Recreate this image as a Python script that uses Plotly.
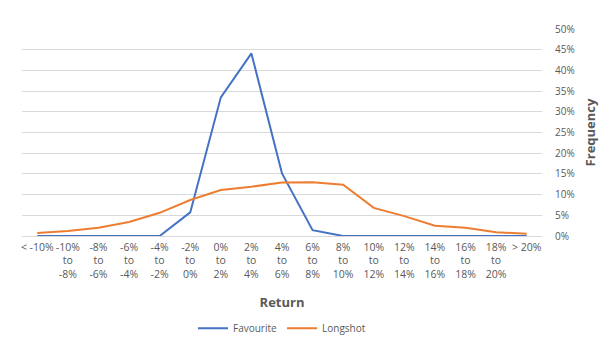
import plotly.graph_objects as go

# Return buckets (category axis) and their display labels
buckets = ["< -10%", "-10% to -8%", "-8% to -6%", "-6% to -4%", "-4% to -2%",
           "-2% to 0%", "0% to 2%", "2% to 4%", "4% to 6%", "6% to 8%",
           "8% to 10%", "10% to 12%", "12% to 14%", "14% to 16%", "16% to 18%",
           "18% to 20%", "> 20%"]
bucket_labels = ["&lt; -10%", "-10%<br>to<br>-8%", "-8%<br>to<br>-6%", "-6%<br>to<br>-4%",
                 "-4%<br>to<br>-2%", "-2%<br>to<br>0%", "0%<br>to<br>2%", "2%<br>to<br>4%",
                 "4%<br>to<br>6%", "6%<br>to<br>8%", "8%<br>to<br>10%", "10%<br>to<br>12%",
                 "12%<br>to<br>14%", "14%<br>to<br>16%", "16%<br>to<br>18%", "18%<br>to<br>20%",
                 "&gt; 20%"]

# Frequency of each return bucket
favourite = [0.0, 0.0, 0.0, 0.0, 0.0, 0.057, 0.335, 0.441, 0.151, 0.014,
             0.0, 0.0, 0.0, 0.0, 0.0, 0.0, 0.0]
longshot = [0.0073, 0.012, 0.020, 0.034, 0.056, 0.087, 0.111, 0.119, 0.129, 0.130,
            0.124, 0.068, 0.048, 0.025, 0.020, 0.009, 0.0055]

y_ticks = [0, 0.05, 0.10, 0.15, 0.20, 0.25, 0.30, 0.35, 0.40, 0.45, 0.50]

font_family = "Open Sans, Liberation Sans, Arial, sans-serif"
grey = "#595959"

fig = go.Figure()
fig.add_trace(go.Scatter(x=buckets, y=favourite, mode="lines", name="Favourite",
                         line=dict(color="#4472c4", width=2)))
fig.add_trace(go.Scatter(x=buckets, y=longshot, mode="lines", name="Longshot",
                         line=dict(color="#ed7d31", width=2)))

fig.update_layout(
    width=612, height=347,
    margin=dict(l=22, r=70, t=29, b=111, autoexpand=False),
    paper_bgcolor="white", plot_bgcolor="white",
    font=dict(family=font_family, size=10, color=grey),
    showlegend=True,
    legend=dict(orientation="h", x=0.5, xanchor="center", y=-0.375, yanchor="top",
                font=dict(size=10, color=grey)),
    xaxis=dict(
        type="category", tickmode="array", tickvals=buckets, ticktext=bucket_labels,
        range=[-0.5, 16.5], showgrid=False, showline=False, zeroline=False,
        automargin=False, tickangle=0, ticks="outside", ticklen=1,
        tickcolor="rgba(0,0,0,0)", tickfont=dict(size=10.5, color=grey),
        title=dict(text="<b>Return</b>", font=dict(size=13, color=grey), standoff=17),
    ),
    yaxis=dict(
        side="right", range=[0, 0.5], tickvals=y_ticks, tickformat=".0%",
        showgrid=True, gridcolor="#d9d9d9", gridwidth=1, zeroline=True,
        zerolinecolor="#d9d9d9", zerolinewidth=1, showline=False, automargin=False,
        ticks="outside", ticklen=10, tickcolor="rgba(0,0,0,0)",
        tickfont=dict(size=10, color=grey),
        title=dict(text="<b>Frequency</b>", font=dict(size=13, color=grey), standoff=12),
    ),
)

fig.write_html("out.html")
